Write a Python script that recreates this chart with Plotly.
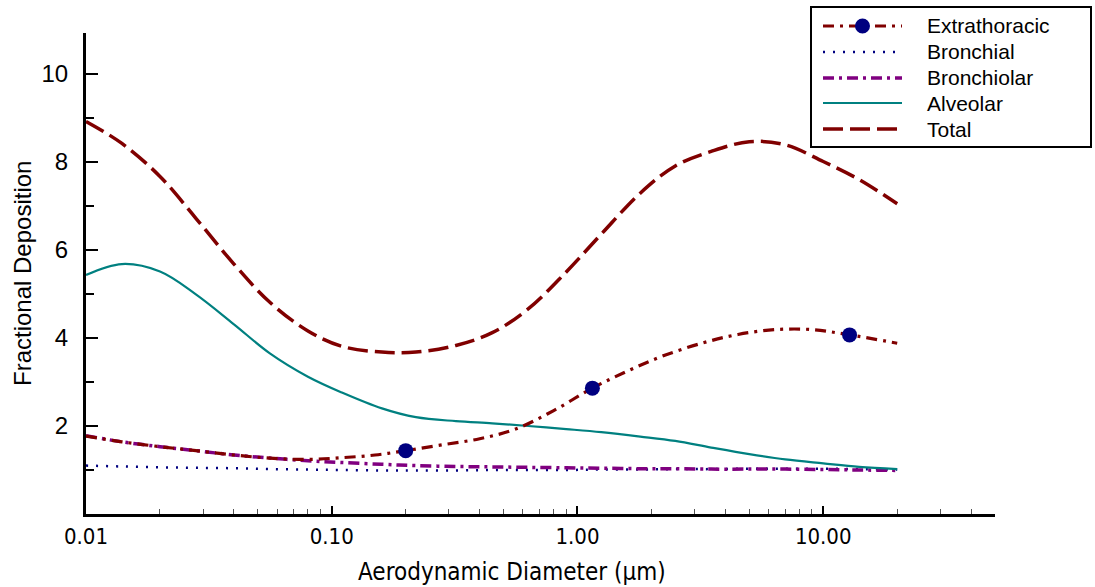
import plotly.graph_objects as go

# Aerodynamic diameter grid (µm), roughly evenly spaced in log10
diameter = [0.01, 0.014, 0.02, 0.028, 0.04, 0.056, 0.08, 0.11, 0.16, 0.22, 0.32, 0.45,
            0.63, 0.9, 1.25, 1.8, 2.5, 3.5, 5.0, 7.0, 10.0, 14.0, 20.0]

total = [8.92, 8.42, 7.67, 6.72, 5.68, 4.81, 4.16, 3.81, 3.68, 3.68, 3.83, 4.12,
         4.66, 5.50, 6.36, 7.29, 7.91, 8.24, 8.46, 8.39, 8.01, 7.60, 7.05]
alveolar = [5.43, 5.68, 5.51, 4.99, 4.31, 3.65, 3.12, 2.76, 2.40, 2.20, 2.11, 2.06,
            2.00, 1.93, 1.86, 1.76, 1.66, 1.51, 1.36, 1.24, 1.15, 1.07, 1.02]
bronchiolar = [1.78, 1.64, 1.53, 1.44, 1.34, 1.27, 1.21, 1.17, 1.13, 1.10, 1.08, 1.07,
               1.06, 1.05, 1.04, 1.03, 1.03, 1.02, 1.02, 1.02, 1.01, 1.00, 0.99]
bronchial = [1.10, 1.08, 1.06, 1.05, 1.04, 1.02, 1.01, 1.00, 0.99, 0.99, 0.99, 1.00,
             1.00, 1.00, 1.01, 1.01, 1.02, 1.02, 1.03, 1.03, 1.03, 1.02, 1.01]

# Extrathoracic curve has its own grid so the marked points sit on it
et_diameter = [0.01, 0.014, 0.02, 0.028, 0.04, 0.056, 0.08, 0.11, 0.15, 0.2, 0.28, 0.4,
               0.56, 0.8, 1.15, 1.6, 2.2, 3.2, 4.5, 6.4, 9.0, 12.8, 20.0]
extrathoracic = [1.77, 1.64, 1.53, 1.44, 1.34, 1.27, 1.24, 1.28, 1.34, 1.44, 1.57, 1.71,
                 1.93, 2.35, 2.86, 3.25, 3.58, 3.88, 4.08, 4.19, 4.19, 4.07, 3.88]
et_marked = [0.2, 1.15, 12.8]

x_tick_vals = [0.01, 0.1, 1, 10]
x_tick_text = ["0.01", "0.10", "1.00", "10.00"]
x_minor_vals = [0.02, 0.03, 0.04, 0.05, 0.06, 0.07, 0.08, 0.09,
                0.2, 0.3, 0.4, 0.5, 0.6, 0.7, 0.8, 0.9,
                2, 3, 4, 5, 6, 7, 8, 9, 20, 30, 40]
y_tick_vals = [2, 4, 6, 8, 10]
y_minor_vals = [1, 3, 5, 7, 9]

DARK_RED = "#800000"
NAVY = "#000080"
PURPLE = "#800080"
TEAL = "#008080"

NARROW = "DejaVu Sans Condensed, Liberation Sans Narrow, Liberation Sans, Arial"
REGULAR = "Liberation Sans, Arial"

W, H = 1095, 587
L, R, T, B = 86, 100, 33, 73

fig = go.Figure()

fig.add_trace(go.Scatter(
    x=diameter, y=bronchial, mode="lines", name="Bronchial",
    line=dict(color=NAVY, width=2.5, dash="2px,8px", shape="spline")))
fig.add_trace(go.Scatter(
    x=diameter, y=bronchiolar, mode="lines", name="Bronchiolar",
    line=dict(color=PURPLE, width=3.5, dash="11px,5px,3px,5px", shape="spline")))
fig.add_trace(go.Scatter(
    x=diameter, y=alveolar, mode="lines", name="Alveolar",
    line=dict(color=TEAL, width=2.2, shape="spline")))
fig.add_trace(go.Scatter(
    x=diameter, y=total, mode="lines", name="Total",
    line=dict(color=DARK_RED, width=3.5, dash="20px,7px", shape="spline")))
fig.add_trace(go.Scatter(
    x=et_diameter, y=extrathoracic, mode="lines", name="Extrathoracic",
    line=dict(color=DARK_RED, width=3.2, dash="11px,6px,3px,6px", shape="spline")))
fig.add_trace(go.Scatter(
    x=et_marked,
    y=[extrathoracic[et_diameter.index(d)] for d in et_marked],
    mode="markers", name="Extrathoracic", showlegend=False,
    marker=dict(color=NAVY, size=15, symbol="circle")))


# Boxed key in the top-right corner, laid out in pixel units
def px_x(p):
    return (p - L) / (W - L - R)


def px_y(p):
    return (H - B - p) / (H - T - B)


shapes = [dict(type="rect", xref="paper", yref="paper",
               x0=px_x(811), x1=px_x(1091), y0=px_y(147), y1=px_y(7),
               line=dict(color="black", width=2), fillcolor="white", layer="above")]
annotations = []
key = [
    ("Extrathoracic", DARK_RED, 3.2, "11px,6px,3px,6px"),
    ("Bronchial", NAVY, 2.5, "2px,8px"),
    ("Bronchiolar", PURPLE, 3.5, "11px,5px,3px,5px"),
    ("Alveolar", TEAL, 2.2, "solid"),
    ("Total", DARK_RED, 3.5, "20px,7px"),
]
row_y = [26, 52, 78, 103, 129]
for (label, color, width, dash), yy in zip(key, row_y):
    shapes.append(dict(type="line", xref="paper", yref="paper",
                       x0=px_x(823), x1=px_x(902), y0=px_y(yy), y1=px_y(yy),
                       line=dict(color=color, width=width, dash=dash), layer="above"))
    annotations.append(dict(x=px_x(925), y=px_y(yy), xref="paper", yref="paper",
                            text=label, showarrow=False, xanchor="left", yanchor="middle",
                            font=dict(size=21, color="black", family=REGULAR)))
shapes.append(dict(type="circle", xref="paper", yref="paper",
                   x0=px_x(855), x1=px_x(870), y0=px_y(33.5), y1=px_y(18.5),
                   fillcolor=NAVY, line=dict(color=NAVY, width=0), layer="above"))

# Axis titles
annotations.append(dict(x=px_x(512), y=px_y(572), xref="paper", yref="paper",
                        text="Aerodynamic Diameter (µm)", showarrow=False,
                        xanchor="center", yanchor="middle",
                        font=dict(size=24, color="black", family=NARROW)))
annotations.append(dict(x=px_x(22), y=px_y(274), xref="paper", yref="paper",
                        text="Fractional Deposition", showarrow=False, textangle=-90,
                        xanchor="center", yanchor="middle",
                        font=dict(size=24, color="black", family=REGULAR)))

fig.update_layout(
    width=W, height=H,
    margin=dict(l=L, r=R, t=T, b=B),
    paper_bgcolor="white", plot_bgcolor="white",
    showlegend=False,
    shapes=shapes,
    annotations=annotations,
    xaxis=dict(
        type="log", range=[-2, 1.699],
        tickvals=x_tick_vals, ticktext=x_tick_text,
        ticks="inside", ticklen=8, tickwidth=2, tickcolor="black",
        minor=dict(tickvals=x_minor_vals, ticks="inside", ticklen=5, tickwidth=1,
                   tickcolor="#555555"),
        showline=True, linecolor="black", linewidth=3,
        showgrid=False, zeroline=False,
        tickfont=dict(size=22, color="black", family=NARROW),
        ticklabelstandoff=1,
    ),
    yaxis=dict(
        range=[0, 10.93],
        tickvals=y_tick_vals,
        ticks="inside", ticklen=12, tickwidth=1.5, tickcolor="black",
        minor=dict(tickvals=y_minor_vals, ticks="inside", ticklen=8, tickwidth=1.5,
                   tickcolor="black"),
        showline=True, linecolor="black", linewidth=3,
        showgrid=False, zeroline=False,
        tickfont=dict(size=24, color="black", family=REGULAR),
        ticklabelstandoff=10,
    ),
)

fig.write_html("out.html")
